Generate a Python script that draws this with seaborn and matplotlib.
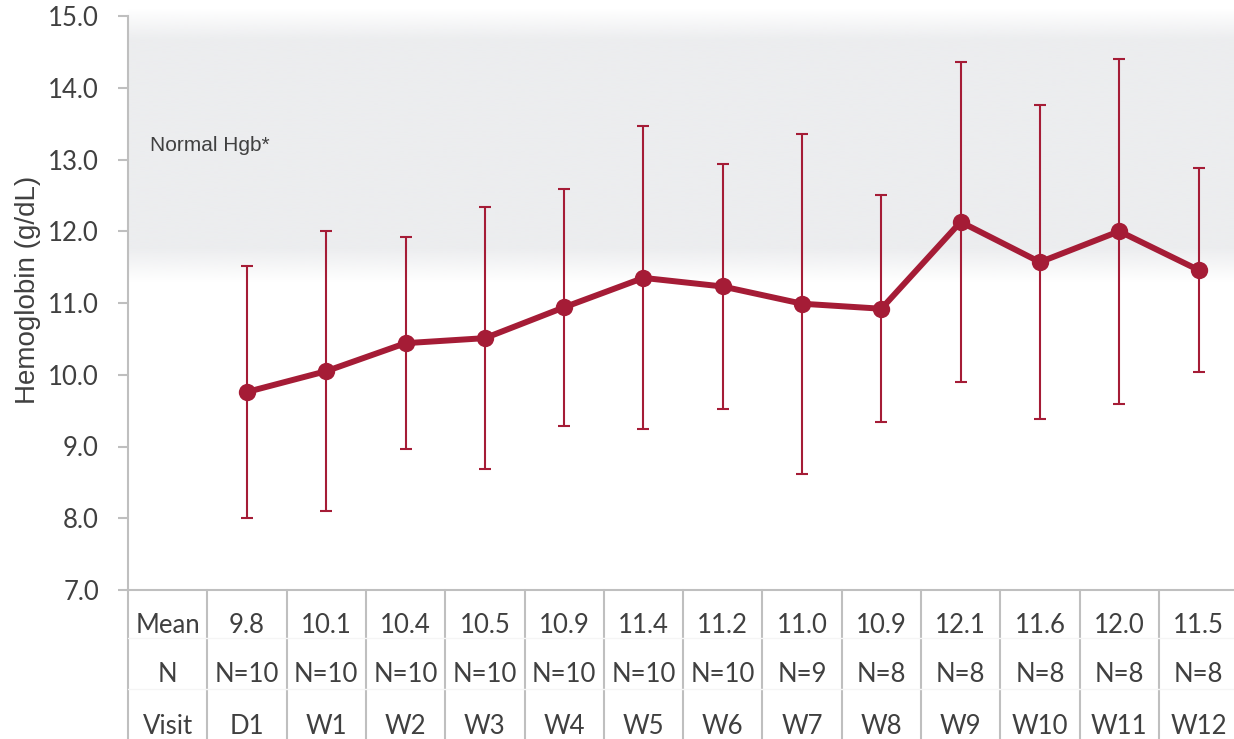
import numpy as np
import pandas as pd
import matplotlib
matplotlib.use("Agg")
import matplotlib.pyplot as plt
import seaborn as sns
from matplotlib.colors import to_rgb
from matplotlib.transforms import blended_transform_factory

# values
visits = ["D1", "W1", "W2", "W3", "W4", "W5", "W6", "W7", "W8", "W9", "W10", "W11", "W12"]
mean_hgb = [9.76, 10.05, 10.44, 10.51, 10.94, 11.35, 11.23, 10.99, 10.92, 12.13, 11.57, 12.00, 11.46]
sd_hgb = [1.755, 1.95, 1.475, 1.83, 1.65, 2.11, 1.71, 2.37, 1.585, 2.235, 2.185, 2.405, 1.415]
mean_labels = ["9.8", "10.1", "10.4", "10.5", "10.9", "11.4", "11.2", "11.0", "10.9", "12.1", "11.6", "12.0", "11.5"]
n_subjects = [10, 10, 10, 10, 10, 10, 10, 9, 8, 8, 8, 8, 8]
row_headers = ["Mean", "N", "Visit"]
yticks = [7.0, 8.0, 9.0, 10.0, 11.0, 12.0, 13.0, 14.0, 15.0]

RED = "#A51C36"
GRAY_BAND = "#ECEDEF"
AXIS_GRAY = "#BFBFBF"
TEXT = "#404040"

sns.set_theme(style="white")
plt.rcParams["font.family"] = ["Lato", "DejaVu Sans"]

W, H = 1234, 739
fig = plt.figure(figsize=(W / 100, H / 100), dpi=100)
ax = fig.add_axes([128 / W, 149 / H, 1106 / W, 574 / H])
xmax = -0.5 + 1106 / 79.3

df = pd.DataFrame({"pos": np.arange(1, len(visits) + 1), "visit": visits,
                   "hgb": mean_hgb, "sd": sd_hgb})

# normal range shading (fades out at both ends)
ys = np.linspace(11.2, 15.2, 400)
alpha = np.interp(ys, [11.29, 11.78, 14.67, 15.11], [0, 1, 1, 0])
band = np.zeros((len(ys), 1, 4))
band[..., :3] = to_rgb(GRAY_BAND)
band[..., 3] = alpha[:, None]
ax.imshow(band, extent=(-0.5, xmax, 11.2, 15.2), origin="lower", aspect="auto",
          interpolation="bilinear", zorder=0, clip_on=False)
ax.text(-0.22, 13.19, "Normal Hgb*", fontsize=15, color=TEXT, va="center",
        family=["Liberation Sans", "DejaVu Sans"])

ax.errorbar(df["pos"], df["hgb"], yerr=df["sd"], fmt="none", ecolor=RED,
            elinewidth=1.5, capsize=4.6, capthick=1.5, zorder=2)
sns.lineplot(data=df, x="pos", y="hgb", ax=ax, color=RED, lw=4.3, marker="o",
             markersize=12.5, markeredgewidth=0, zorder=3)

ax.set_xlim(-0.5, xmax)
ax.set_ylim(7.0, 15.0)
ax.set_xticks([])
ax.set_xlabel("")
ax.set_yticks(yticks)
ax.set_yticklabels([f"{v:.1f}" for v in yticks])
ax.tick_params(axis="y", left=True, length=7.2, width=1.5, color=AXIS_GRAY,
               pad=13.7, labelsize=18.5, labelcolor=TEXT)
ax.set_ylabel("Hemoglobin (g/dL)", fontsize=20, color=TEXT,
              family=["Liberation Sans", "DejaVu Sans"])
ax.yaxis.set_label_coords(-0.0787, 0.523)
for side in ["top", "right"]:
    ax.spines[side].set_visible(False)
for side in ["left", "bottom"]:
    ax.spines[side].set_color(AXIS_GRAY)
    ax.spines[side].set_linewidth(1.5)

# data table under the x axis
tr = blended_transform_factory(ax.transData, ax.transAxes)
for i in range(len(visits) + 1):
    ax.plot([i - 0.5, i - 0.5], [0, -0.27], color=AXIS_GRAY, lw=1.5,
            transform=tr, clip_on=False)
for yy in [-0.0836, -0.1725]:
    ax.plot([-0.5, xmax], [yy, yy], color="#F5F5F5", lw=1, transform=tr, clip_on=False)

row_y = [-0.061, -0.148, -0.237]
for hdr, yy in zip(row_headers, row_y):
    ax.text(0, yy, hdr, transform=tr, ha="center", va="center", fontsize=18.5, color=TEXT)
for pos, m, n, v in zip(df["pos"], mean_labels, n_subjects, visits):
    ax.text(pos, row_y[0], m, transform=tr, ha="center", va="center", fontsize=18.5, color=TEXT)
    ax.text(pos, row_y[1], f"N={n}", transform=tr, ha="center", va="center", fontsize=18.5, color=TEXT)
    ax.text(pos, row_y[2], v, transform=tr, ha="center", va="center", fontsize=18.5, color=TEXT)

fig.savefig("out.png", dpi=100)
